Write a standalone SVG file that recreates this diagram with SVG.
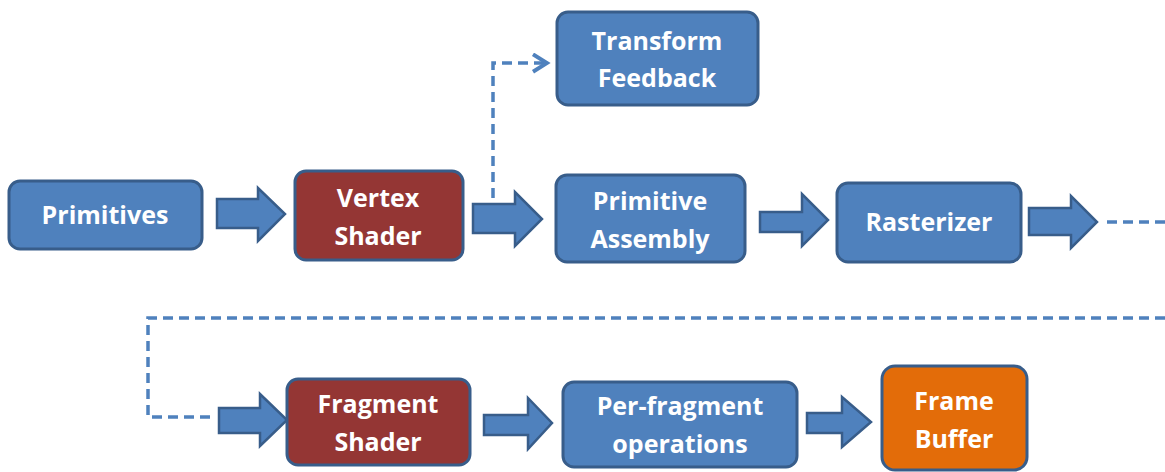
<svg xmlns="http://www.w3.org/2000/svg" width="1165" height="472" viewBox="0 0 1165 472">
  <defs>
    <style>
      .box { stroke: #385D8A; stroke-width: 3; }
      .blue { fill: #4F81BD; }
      .red { fill: #943634; }
      .orange { fill: #E36C09; }
      .label { font-family: "Open Sans", "Lato", sans-serif; font-weight: bold; font-size: 25px; fill: #FFFFFF; text-anchor: middle; }
      .block { fill: #4F81BD; stroke: #385D8A; stroke-width: 2.5; stroke-linejoin: miter; }
      .dash { fill: none; stroke: #4F81BD; stroke-width: 3.5; stroke-dasharray: 10 6; }
    </style>
    <marker id="open-arrow" viewBox="0 0 12 12" refX="10" refY="6" markerWidth="6" markerHeight="6" markerUnits="strokeWidth" orient="auto">
      <path d="M2,1 L10,6 L2,11" fill="none" stroke="#4F81BD" stroke-width="2.2"/>
    </marker>
  </defs>

  <!-- connectors: block arrows and dashed routes -->
  <g id="connectors">
    <path class="block" d="M217,199 H258 V188 L285,214 L258,241 V228 H217 Z"/>
    <path class="block" d="M473,204 H515 V192 L542,219 L515,246 V233 H473 Z"/>
    <path class="block" d="M760,212 H802 V194 L828,220 L802,246 V232 H760 Z"/>
    <path class="block" d="M1029,208 H1071 V196 L1097,222 L1071,248 V235 H1029 Z"/>
    <path class="block" d="M219,408 H260 V394 L287,420 L260,446 V433 H219 Z"/>
    <path class="block" d="M484,415 H528 V398 L552,423 L528,449 V435 H484 Z"/>
    <path class="block" d="M807,413 H842 V397 L871,422 L842,447 V433 H807 Z"/>

    <path class="dash" d="M493,198 V63 H547" marker-end="url(#open-arrow)"/>
    <path class="dash" d="M1107,222 H1165"/>
    <path class="dash" d="M1165,318 H148 V417 H212"/>
  </g>

  <g id="primitives">
    <rect class="box blue" x="9" y="181" width="193" height="68" rx="11"/>
    <text class="label" x="105" y="224">Primitives</text>
  </g>

  <g id="vertex-shader">
    <rect class="box red" x="295" y="171" width="168" height="89" rx="11"/>
    <text class="label" x="378" y="207">Vertex</text>
    <text class="label" x="378" y="245">Shader</text>
  </g>

  <g id="transform-feedback">
    <rect class="box blue" x="557" y="12" width="201" height="93" rx="11"/>
    <text class="label" x="657" y="50">Transform</text>
    <text class="label" x="657" y="87">Feedback</text>
  </g>

  <g id="primitive-assembly">
    <rect class="box blue" x="556" y="175" width="189" height="87" rx="11"/>
    <text class="label" x="650" y="210">Primitive</text>
    <text class="label" x="650" y="248">Assembly</text>
  </g>

  <g id="rasterizer">
    <rect class="box blue" x="837" y="183" width="184" height="79" rx="11"/>
    <text class="label" x="929" y="231">Rasterizer</text>
  </g>

  <g id="fragment-shader">
    <rect class="box red" x="287" y="379" width="183" height="86" rx="11"/>
    <text class="label" x="378" y="413">Fragment</text>
    <text class="label" x="378" y="451">Shader</text>
  </g>

  <g id="per-fragment-operations">
    <rect class="box blue" x="563" y="382" width="234" height="85" rx="11"/>
    <text class="label" x="680" y="415">Per-fragment</text>
    <text class="label" x="680" y="453">operations</text>
  </g>

  <g id="frame-buffer">
    <rect class="box orange" x="882" y="366" width="145" height="104" rx="13"/>
    <text class="label" x="954" y="410">Frame</text>
    <text class="label" x="954" y="448">Buffer</text>
  </g>
</svg>
